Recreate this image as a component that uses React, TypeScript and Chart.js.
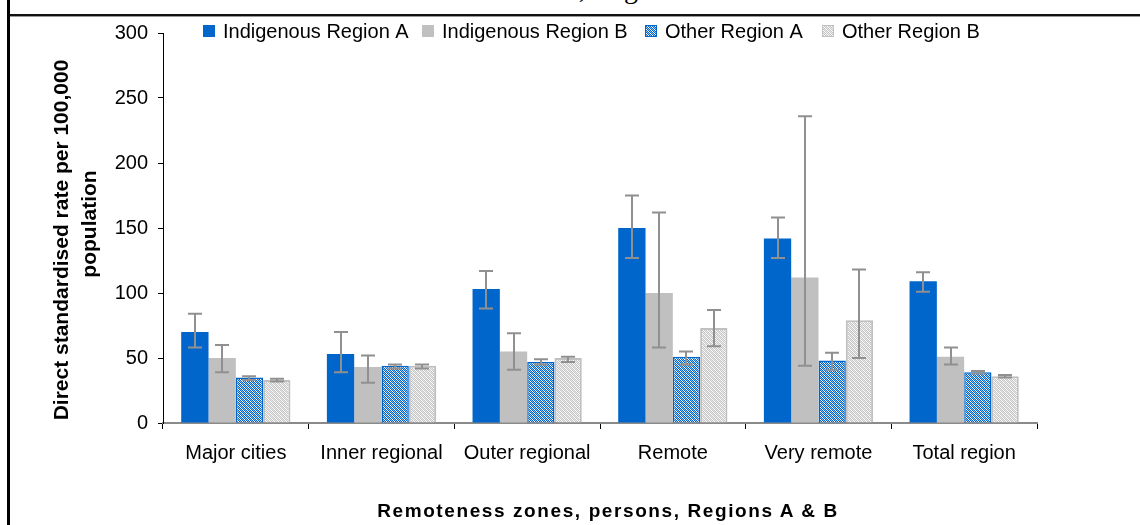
import React, { useEffect, useRef } from "react";
import { Chart, registerables } from "chart.js";

Chart.register(...registerables);

const categories = ["Major cities", "Inner regional", "Outer regional", "Remote", "Very remote", "Total region"];
const seriesNames = ["Indigenous Region A", "Indigenous Region B", "Other Region A", "Other Region B"];

const indigenousA = [70, 53, 103, 150, 142, 109];
const indigenousALow = [58, 39, 88, 127, 127, 101];
const indigenousAHigh = [84, 70, 117, 175, 158, 116];

const indigenousB = [50, 43, 55, 100, 112, 51];
const indigenousBLow = [39, 31, 41, 58, 44, 45];
const indigenousBHigh = [60, 52, 69, 162, 236, 58];

const otherA = [35, 44, 47, 51, 48, 39];
const otherALow = [33, 42, 45, 45, 41, 38];
const otherAHigh = [36, 45, 49, 55, 54, 40];

const otherB = [33, 44, 50, 73, 79, 36];
const otherBLow = [32, 42, 47, 59, 50, 35];
const otherBHigh = [34, 45, 51, 87, 118, 37];

const yMin = 0;
const yMax = 300;
const yStep = 50;

const yTitleLines = ["Direct standardised rate per 100,000", "population"];
const xTitle = "Remoteness zones, persons, Regions A & B";
const headerText = "Direct standardised rates, Regions A & B";

const FONT = "'Liberation Sans', Arial, sans-serif";

function makePattern(ctx: CanvasRenderingContext2D, a: string, b: string, c: string) {
  const tile = [
    [a, b, a, c],
    [c, a, b, a],
    [a, c, a, b],
    [b, a, c, a],
  ];
  const cv = document.createElement("canvas");
  cv.width = 4;
  cv.height = 4;
  const g = cv.getContext("2d")!;
  for (let y = 0; y < 4; y++) {
    for (let x = 0; x < 4; x++) {
      g.fillStyle = tile[y][x];
      g.fillRect(x, y, 1, 1);
    }
  }
  return ctx.createPattern(cv, "repeat")!;
}

export default function App() {
  const ref = useRef<HTMLCanvasElement | null>(null);

  useEffect(() => {
    const canvas = ref.current!;
    const ctx = canvas.getContext("2d")!;
    const patA = makePattern(ctx, "#0066cc", "#ffffff", "#8fbdf0");
    const patB = makePattern(ctx, "#c6c6c6", "#ffffff", "#e6e6e6");

    const lows = [indigenousALow, indigenousBLow, otherALow, otherBLow];
    const highs = [indigenousAHigh, indigenousBHigh, otherAHigh, otherBHigh];
    const fills: any[] = ["#0066cc", "#c0c0c0", patA, patB];
    const borders = ["#0066cc", "#c0c0c0", "#0066cc", "#c0c0c0"];
    const bws = [0, 0, 1.5, 2];

    const errorBars = {
      id: "errorBars",
      afterDatasetsDraw(chart: any) {
        const c = chart.ctx;
        const ys = chart.scales.y;
        c.save();
        c.strokeStyle = "#909090";
        c.lineWidth = 2;
        chart.data.datasets.forEach((_: any, i: number) => {
          const meta = chart.getDatasetMeta(i);
          meta.data.forEach((bar: any, j: number) => {
            const lo = ys.getPixelForValue(lows[i][j]);
            const hi = ys.getPixelForValue(highs[i][j]);
            const x = Math.round(bar.x);
            c.beginPath();
            c.moveTo(x, lo);
            c.lineTo(x, hi);
            c.moveTo(x - 7, lo);
            c.lineTo(x + 7, lo);
            c.moveTo(x - 7, hi);
            c.lineTo(x + 7, hi);
            c.stroke();
          });
        });
        c.restore();
      },
    };

    const legendX = [203, 422, 645, 822];
    const decor = {
      id: "decor",
      afterDraw(chart: any) {
        const c = chart.ctx;
        c.save();
        c.font = `20px ${FONT}`;
        c.textBaseline = "middle";
        c.textAlign = "left";
        seriesNames.forEach((name, i) => {
          const sx = legendX[i];
          const sy = 25;
          c.fillStyle = fills[i];
          c.fillRect(sx, sy, 12, 12);
          if (bws[i] > 0) {
            c.strokeStyle = borders[i];
            c.lineWidth = 1;
            c.strokeRect(sx + 0.5, sy + 0.5, 11, 11);
          }
          c.fillStyle = "#000";
          c.fillText(name, sx + 20, 32);
        });
        c.font = `bold 21px ${FONT}`;
        c.textAlign = "center";
        c.fillStyle = "#000";
        c.save();
        c.translate(62, 240);
        c.rotate(-Math.PI / 2);
        c.fillText(yTitleLines[0], 0, 0);
        c.restore();
        c.save();
        c.translate(90, 224);
        c.rotate(-Math.PI / 2);
        c.fillText(yTitleLines[1], 0, 0);
        c.restore();
        c.restore();
      },
    };

    const chart = new Chart(canvas, {
      type: "bar",
      data: {
        labels: categories,
        datasets: [indigenousA, indigenousB, otherA, otherB].map((d, i) => ({
          label: seriesNames[i],
          data: d,
          backgroundColor: fills[i],
          borderColor: borders[i],
          borderWidth: bws[i],
          categoryPercentage: 0.75,
          barPercentage: 1.0,
        })),
      },
      options: {
        responsive: false,
        maintainAspectRatio: false,
        animation: false,
        layout: { padding: { left: 0, top: 33, right: 103, bottom: 0 } },
        plugins: { legend: { display: false }, tooltip: { enabled: false } },
        scales: {
          x: {
            grid: { display: true, drawOnChartArea: false, drawTicks: true, tickLength: 6, color: "#000", offset: true },
            border: { display: true, color: "#8a8a8a", width: 2 },
            ticks: { font: { family: FONT, size: 20 }, color: "#000", padding: 12, maxRotation: 0, autoSkip: false },
            afterFit: (s: any) => {
              s.height = 102;
            },
          },
          y: {
            min: yMin,
            max: yMax,
            ticks: { stepSize: yStep, font: { family: FONT, size: 20 }, color: "#000", padding: 10 },
            grid: { display: true, drawOnChartArea: false, drawTicks: true, tickLength: 5, color: "#000" },
            border: { display: true, color: "#000", width: 1 },
            afterFit: (s: any) => {
              s.width = 163;
            },
          },
        },
      },
      plugins: [errorBars, decor],
    });
    return () => chart.destroy();
  }, []);

  return (
    <div style={{ position: "fixed", left: 0, top: 0, width: 1140, height: 525, background: "#fff", overflow: "hidden" }}>
      <div
        style={{
          position: "absolute",
          left: 302,
          top: -25,
          font: "28px 'Liberation Serif', 'Times New Roman', serif",
          lineHeight: "28px",
          whiteSpace: "nowrap",
          color: "#000",
        }}
      >
        {headerText}
      </div>
      <div style={{ position: "absolute", left: 7, top: 0, width: 3, height: 525, background: "#000" }} />
      <div style={{ position: "absolute", left: 10, top: 14, width: 1130, height: 2, background: "#111" }} />
      <div style={{ position: "absolute", left: 10, top: 16, width: 1130, height: 1, background: "#999" }} />
      <canvas ref={ref} width={1140} height={525} style={{ position: "absolute", left: 0, top: 0, width: 1140, height: 525 }} />
      <div
        style={{
          position: "absolute",
          left: 308,
          top: 500,
          width: 600,
          textAlign: "center",
          font: `bold 19px ${FONT}`,
          lineHeight: "22px",
          letterSpacing: "1.6px",
          color: "#000",
          whiteSpace: "nowrap",
        }}
      >
        {xTitle}
      </div>
    </div>
  );
}
